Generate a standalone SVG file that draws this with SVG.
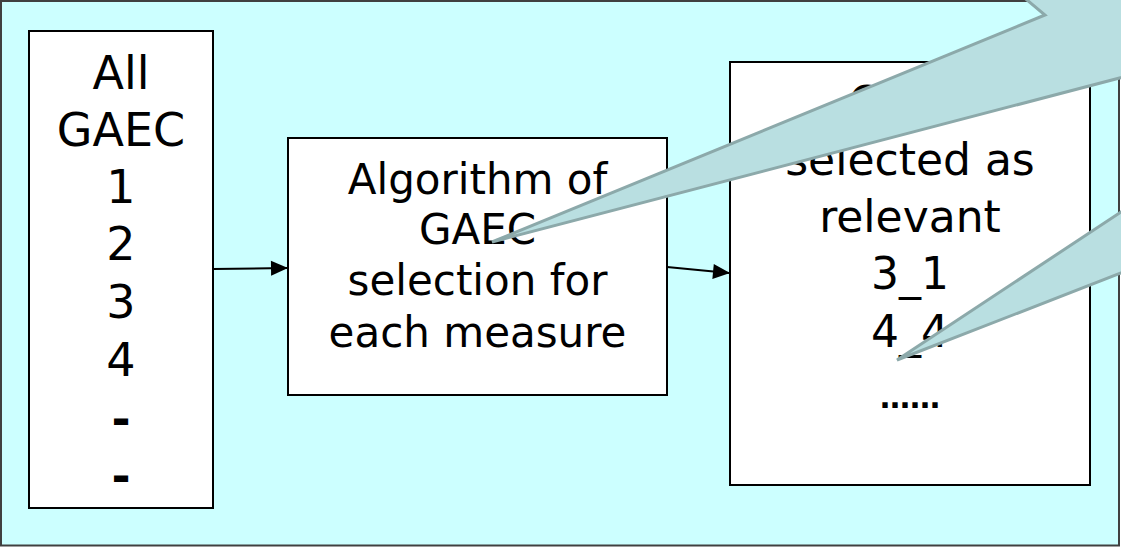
<svg xmlns="http://www.w3.org/2000/svg" width="1121" height="548" viewBox="0 0 1121 548">
  <style>
    .box { fill: #ffffff; stroke: #000000; stroke-width: 2; }
    .t { font-family: "DejaVu Sans", "Liberation Sans", sans-serif; fill: #000000; text-anchor: middle; }
    .l { font-size: 46px; }
    .m { font-size: 42px; }
    .r { font-size: 44px; }
    .conn { stroke: #000000; stroke-width: 2; fill: none; }
    .callout { fill: #B9DFE1; stroke: #8CA9AA; stroke-width: 3; stroke-linejoin: miter; }
  </style>
  <defs>
    <marker id="arrow" viewBox="0 0 17 15" refX="16" refY="7.5" markerWidth="17" markerHeight="15" markerUnits="userSpaceOnUse" orient="auto" overflow="visible">
      <path d="M0,0 L17,7.5 L0,15 Z" fill="#000000"/>
    </marker>
  </defs>

  <rect id="background" x="1" y="1" width="1118" height="544.5" fill="#CCFFFF" stroke="#404040" stroke-width="2"/>

  <g id="node-all-gaec">
    <rect class="box" x="29" y="31" width="184" height="477"/>
    <text class="t l" x="121" y="89">All</text>
    <text class="t l" x="121" y="146">GAEC</text>
    <text class="t l" x="121" y="203">1</text>
    <text class="t l" x="121" y="260">2</text>
    <text class="t l" x="121" y="318">3</text>
    <text class="t l" x="121" y="376">4</text>
    <text class="t l" x="121" y="435" font-weight="bold">-</text>
    <text class="t l" x="121" y="492" font-weight="bold">-</text>
  </g>

  <g id="node-algorithm">
    <rect class="box" x="288" y="138" width="379" height="257"/>
    <text class="t m" x="477.5" y="194">Algorithm of</text>
    <text class="t m" x="477.5" y="244">GAEC</text>
    <text class="t m" x="477.5" y="295">selection for</text>
    <text class="t m" x="477.5" y="347">each measure</text>
  </g>

  <g id="node-selected">
    <rect class="box" x="730" y="62" width="360" height="423"/>
    <text class="t r" x="910" y="118">GAEC</text>
    <text class="t r" x="910" y="175">selected as</text>
    <text class="t r" x="910" y="232">relevant</text>
    <text class="t r" x="910" y="289">3_1</text>
    <text class="t r" x="910" y="347">4_4</text>
    <text class="t" font-size="30" font-weight="bold" x="910" y="408">……</text>
  </g>

  <g id="connectors">
    <line class="conn" x1="213" y1="269" x2="287" y2="268" marker-end="url(#arrow)"/>
    <line class="conn" x1="667" y1="267" x2="729" y2="273" marker-end="url(#arrow)"/>
  </g>

  <g id="callout-1">
    <polygon class="callout" points="492,242 1045,15 1015,-10 1200,-10 1200,57"/>
  </g>
  <g id="callout-2">
    <polygon class="callout" points="897,360 1121,212 1200,160 1200,242 1121,273"/>
  </g>
</svg>
